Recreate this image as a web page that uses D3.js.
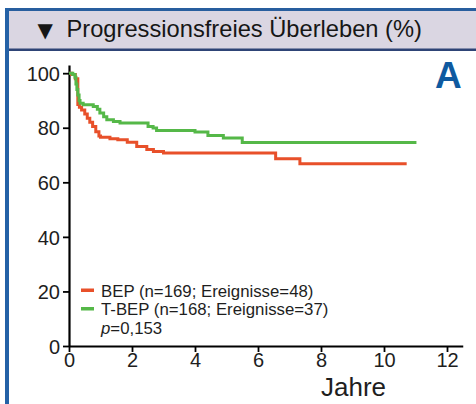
<!DOCTYPE html>
<html><head><meta charset="utf-8">
<script src="https://cdn.jsdelivr.net/npm/d3@7/dist/d3.min.js"></script>
<style>
html,body{margin:0;padding:0;background:#fff;}
svg{display:block;font-family:"Liberation Sans",Arial,Helvetica,sans-serif;}
</style></head>
<body>
<svg id="c" width="476" height="404"></svg>
<script>
// ---- data ----
const bepTime  = [0, 0.08, 0.2, 0.28, 0.33, 0.4, 0.5, 0.58, 0.66, 0.75, 0.85, 0.95, 1.0, 1.3, 1.55, 1.85, 2.15, 2.47, 2.68, 3.0, 6.56, 7.33, 10.72];
const bepSurv  = [100, 99.5, 98, 88.5, 87.5, 86.5, 85, 83.5, 82, 80.5, 78.5, 77, 76.5, 76, 75.6, 74.7, 73.1, 72, 71.3, 70.7, 68.6, 66.8, 66.8];
const tbepTime = [0, 0.12, 0.19, 0.22, 0.25, 0.28, 0.32, 0.35, 0.45, 0.77, 0.9, 0.98, 1.1, 1.2, 1.41, 1.62, 2.51, 2.67, 2.78, 4.0, 4.41, 4.9, 5.5, 11.03];
const tbepSurv = [100, 99.5, 98.5, 96, 94, 92, 90, 89, 88.4, 87.8, 86.8, 85.4, 84, 82.9, 82.3, 81.7, 80.5, 79.9, 79, 78.4, 77.2, 76.2, 74.6, 74.6];
const xTicks = [0, 2, 4, 6, 8, 10, 12];
const yTicks = [0, 20, 40, 60, 80, 100];
const seriesNames = ["BEP (n=169; Ereignisse=48)", "T-BEP (n=168; Ereignisse=37)"];
const pValue = "=0,153";
const title = "Progressionsfreies Überleben (%)";

const svg = d3.select("#c");

// frame
svg.append("rect").attr("x",5).attr("y",11).attr("width",471).attr("height",38).attr("fill","#dad6e2");
svg.append("rect").attr("x",5).attr("y",8).attr("width",471).attr("height",3).attr("fill","#285e9e");
svg.append("rect").attr("x",5).attr("y",48.5).attr("width",471).attr("height",2.5).attr("fill","#2e4476");
svg.append("rect").attr("x",5).attr("y",8).attr("width",4).attr("height",396).attr("fill","#2461a6");

svg.append("text").attr("x",37.5).attr("y",37).attr("font-size",23.7).attr("fill","#161616")
  .call(t=>{
    t.append("tspan").attr("font-family","DejaVu Sans").attr("font-size",20).text("▼");
    t.append("tspan").attr("x",66.5).text(title);
  });

svg.append("text").attr("x",435).attr("y",88).attr("font-size",37).attr("font-weight","bold")
  .attr("fill","#0f5aa0").text("A");

const x = d3.scaleLinear().domain([0,12.5]).range([69,462.75]);
const y = d3.scaleLinear().domain([0,103]).range([346,65]);

const gx = svg.append("g").attr("transform","translate(0,346)")
  .call(d3.axisBottom(x).tickValues(xTicks).tickSize(6).tickSizeOuter(0).tickPadding(1));
const gy = svg.append("g").attr("transform","translate(69,0)")
  .call(d3.axisLeft(y).tickValues(yTicks).tickSize(6).tickSizeOuter(0).tickPadding(3));
[gx,gy].forEach(g=>{
  g.select(".domain").attr("stroke","#000").attr("stroke-width",2.2);
  g.selectAll(".tick line").attr("stroke","#000").attr("stroke-width",1.8);
  g.selectAll(".tick text").attr("font-size",20).attr("fill","#1e1e1e")
   .attr("font-family","'Liberation Sans',Arial,sans-serif");
});
gy.selectAll(".tick text").attr("dy","0.36em");

svg.append("text").attr("x",353.5).attr("y",396).attr("text-anchor","middle")
  .attr("font-size",26).attr("fill","#1e1e1e").text("Jahre");

const line = d3.line().x(d=>x(d[0])).y(d=>y(d[1])).curve(d3.curveStepAfter);
const bep = bepTime.map((t,i)=>[t,bepSurv[i]]);
const tbep = tbepTime.map((t,i)=>[t,tbepSurv[i]]);
const colors = ["#e8502a","#55b848"];

svg.append("path").datum(bep).attr("d",line).attr("fill","none")
  .attr("stroke",colors[0]).attr("stroke-width",3);
svg.append("path").datum(tbep).attr("d",line).attr("fill","none")
  .attr("stroke",colors[1]).attr("stroke-width",3);

// legend
seriesNames.forEach((n,i)=>{
  const yy = 296.5 + i*18.5;
  svg.append("rect").attr("x",81).attr("y",yy-8).attr("width",13).attr("height",3.5).attr("fill",colors[i]);
  svg.append("text").attr("x",101).attr("y",yy).attr("font-size",16.8).attr("fill","#1e1e1e").text(n);
});
svg.append("text").attr("x",101).attr("y",333.5).attr("font-size",16.8).attr("fill","#1e1e1e")
  .call(t=>{
    t.append("tspan").attr("font-style","italic").text("p");
    t.append("tspan").text(pValue);
  });
</script>
</body></html>
